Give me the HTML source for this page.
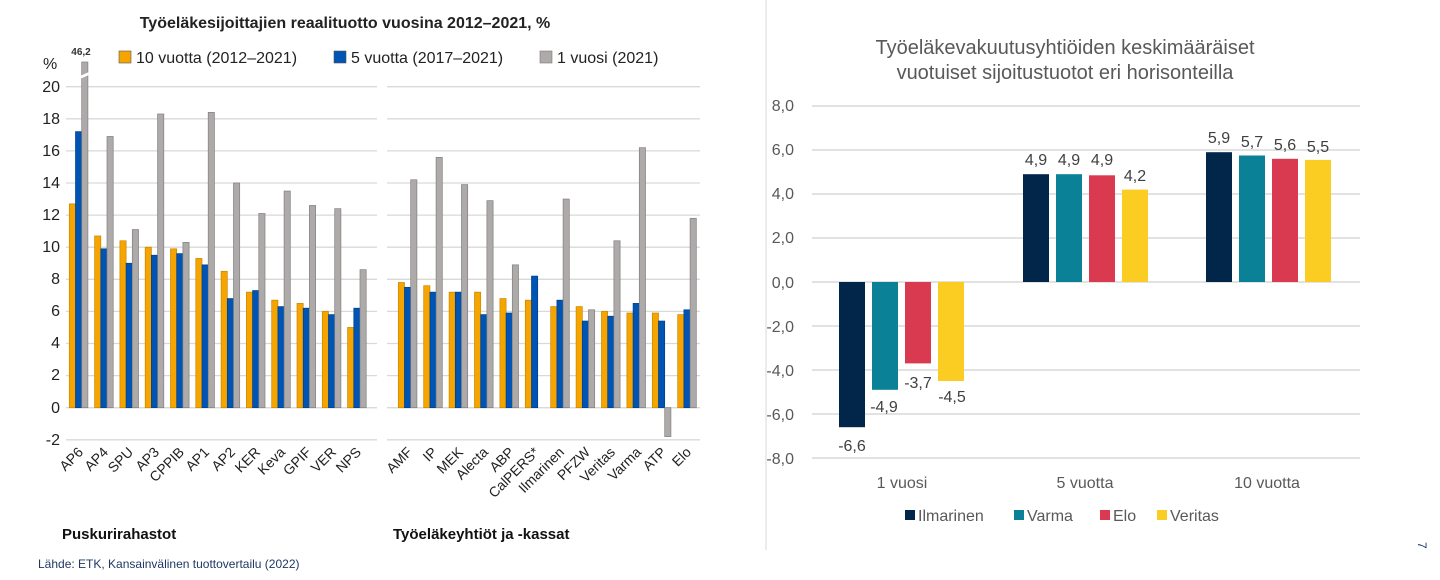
<!DOCTYPE html>
<html><head><meta charset="utf-8">
<style>
html,body{margin:0;padding:0;background:#fff;}
svg{display:block;font-family:"Liberation Sans",sans-serif;}
</style></head>
<body>
<svg id="s" width="1440" height="580" viewBox="0 0 1440 580" xmlns="http://www.w3.org/2000/svg">
<rect width="1440" height="580" fill="#fff"/>
<g id="grid"></g>
<g id="bars"></g>
<!-- left chart texts -->
<text x="345" y="28" text-anchor="middle" font-size="16" font-weight="bold" fill="#222">Työeläkesijoittajien reaalituotto vuosina 2012–2021, %</text>
<text x="81" y="55" text-anchor="middle" font-size="10" font-weight="bold" fill="#333">46,2</text>
<text x="43" y="69" font-size="16" fill="#222">%</text>
<rect x="119" y="51" width="12" height="12" fill="#f6a500" stroke="#555" stroke-width="0.6"/>
<text x="136" y="63" font-size="16" fill="#222">10 vuotta (2012–2021)</text>
<rect x="334" y="51" width="12" height="12" fill="#0054b4" stroke="#555" stroke-width="0.6"/>
<text x="351" y="63" font-size="16" fill="#222">5 vuotta (2017–2021)</text>
<rect x="540" y="51" width="12" height="12" fill="#aeaaaa" stroke="#777" stroke-width="0.6"/>
<text x="557" y="63" font-size="16" fill="#222">1 vuosi (2021)</text>
<g font-size="16" fill="#222" text-anchor="end">
<text x="60" y="92">20</text><text x="60" y="124">18</text><text x="60" y="156">16</text>
<text x="60" y="188">14</text><text x="60" y="220">12</text><text x="60" y="252">10</text>
<text x="60" y="284">8</text><text x="60" y="316">6</text><text x="60" y="348">4</text>
<text x="60" y="380">2</text><text x="60" y="413">0</text><text x="60" y="445">-2</text>
</g>
<g font-size="14" fill="#222" text-anchor="end">
<text transform="translate(84,453) rotate(-45)">AP6</text>
<text transform="translate(109,453) rotate(-45)">AP4</text>
<text transform="translate(134,453) rotate(-45)">SPU</text>
<text transform="translate(160,453) rotate(-45)">AP3</text>
<text transform="translate(185,453) rotate(-45)">CPPIB</text>
<text transform="translate(210,453) rotate(-45)">AP1</text>
<text transform="translate(236,453) rotate(-45)">AP2</text>
<text transform="translate(261,453) rotate(-45)">KER</text>
<text transform="translate(286,453) rotate(-45)">Keva</text>
<text transform="translate(312,453) rotate(-45)">GPIF</text>
<text transform="translate(337,453) rotate(-45)">VER</text>
<text transform="translate(362,453) rotate(-45)">NPS</text>
<text transform="translate(413,453) rotate(-45)">AMF</text>
<text transform="translate(438,453) rotate(-45)">IP</text>
<text transform="translate(464,453) rotate(-45)">MEK</text>
<text transform="translate(489,453) rotate(-45)">Alecta</text>
<text transform="translate(515,453) rotate(-45)">ABP</text>
<text transform="translate(540,453) rotate(-45)">CalPERS*</text>
<text transform="translate(565,453) rotate(-45)">Ilmarinen</text>
<text transform="translate(591,453) rotate(-45)">PFZW</text>
<text transform="translate(616,453) rotate(-45)">Veritas</text>
<text transform="translate(642,453) rotate(-45)">Varma</text>
<text transform="translate(667,453) rotate(-45)">ATP</text>
<text transform="translate(692,453) rotate(-45)">Elo</text>
</g>
<text x="62" y="539" font-size="15" font-weight="bold" fill="#111">Puskurirahastot</text>
<text x="393" y="539" font-size="15" font-weight="bold" fill="#111">Työeläkeyhtiöt ja -kassat</text>
<text x="38" y="568" font-size="12" fill="#1f3864">Lähde: ETK, Kansainvälinen tuottovertailu (2022)</text>
<!-- right chart -->
<line x1="766" y1="0" x2="766" y2="550" stroke="#e6e6e6" stroke-width="1.5"/>
<text x="1065" y="54" text-anchor="middle" font-size="20" fill="#595959">Työeläkevakuutusyhtiöiden keskimääräiset</text>
<text x="1065" y="79" text-anchor="middle" font-size="20" fill="#595959">vuotuiset sijoitustuotot eri horisonteilla</text>
<g font-size="16" fill="#595959" text-anchor="end">
<text x="794" y="111">8,0</text><text x="794" y="155">6,0</text><text x="794" y="199">4,0</text>
<text x="794" y="243">2,0</text><text x="794" y="288">0,0</text><text x="794" y="332">-2,0</text>
<text x="794" y="376">-4,0</text><text x="794" y="420">-6,0</text><text x="794" y="464">-8,0</text>
</g>
<g font-size="16" fill="#404040" text-anchor="middle">
<text x="852" y="451">-6,6</text><text x="884" y="412">-4,9</text><text x="918" y="388">-3,7</text><text x="952" y="402">-4,5</text>
<text x="1036" y="165">4,9</text><text x="1069" y="165">4,9</text><text x="1102" y="165">4,9</text><text x="1135" y="181">4,2</text>
<text x="1219" y="143">5,9</text><text x="1252" y="147">5,7</text><text x="1285" y="150">5,6</text><text x="1318" y="152">5,5</text>
</g>
<g font-size="16" fill="#595959" text-anchor="middle">
<text x="902" y="488">1 vuosi</text><text x="1085" y="488">5 vuotta</text><text x="1267" y="488">10 vuotta</text>
</g>
<g font-size="16" fill="#595959">
<rect x="905" y="510" width="10" height="10" fill="#012649"/><text x="918" y="521">Ilmarinen</text>
<rect x="1014" y="510" width="10" height="10" fill="#0a8196"/><text x="1027" y="521">Varma</text>
<rect x="1100" y="510" width="10" height="10" fill="#d93a50"/><text x="1113" y="521">Elo</text>
<rect x="1157" y="510" width="10" height="10" fill="#fbcd23"/><text x="1170" y="521">Veritas</text>
</g>
<text transform="translate(1418,542) rotate(90)" font-size="12" fill="#1f3864">7</text>
</svg>
<script>
(function(){
var NS="http://www.w3.org/2000/svg",g=document.getElementById('grid'),b=document.getElementById('bars');
function el(p,t,a){var e=document.createElementNS(NS,t);for(var k in a)e.setAttribute(k,a[k]);p.appendChild(e);return e;}
for(var v=-2;v<=20;v+=2){var y=407.7-16.05*v;
 el(g,'line',{x1:66,x2:377,y1:y,y2:y,stroke:'#d9d9d9','stroke-width':1.3});
 el(g,'line',{x1:387,x2:700,y1:y,y2:y,stroke:'#d9d9d9','stroke-width':1.3});}
var L=[[12.7,17.2,63],[10.7,9.9,16.9],[10.4,9.0,11.1],[10.0,9.5,18.3],[9.9,9.6,10.3],[9.3,8.9,18.4],[8.5,6.8,14.0],[7.2,7.3,12.1],[6.7,6.3,13.5],[6.5,6.2,12.6],[6.0,5.8,12.4],[5.0,6.2,8.6]];
var R=[[7.8,7.5,14.2],[7.6,7.2,15.6],[7.2,7.2,13.9],[7.2,5.8,12.9],[6.8,5.9,8.9],[6.7,8.2,null],[6.3,6.7,13.0],[6.3,5.4,6.1],[6.0,5.7,10.4],[5.9,6.5,16.2],[5.9,5.4,-1.8],[5.8,6.1,11.8]];
var cols=['#f6a500','#0054b4','#aeaaaa'],str=['#c98600','#003f8a','#7f7f7f'];
function draw(D,x0,dx){D.forEach(function(d,i){for(var j=0;j<3;j++){var v=d[j];if(v==null)continue;
 var y0=407.7,y1=407.7-16.05*v;var top=Math.min(y0,y1),h=Math.abs(y1-y0);
 if(j==2&&v==63){top=62;h=407.7-62;}
 el(b,'rect',{x:x0+dx*i+6.2*j,y:top,width:6.2,height:h,fill:cols[j],stroke:str[j],'stroke-width':0.7});}});}
draw(L,69.3,25.3);draw(R,398.3,25.4);
el(b,'polygon',{points:'80,76 89,72 89,75 80,79',fill:'#fff'});
for(var v=-8;v<=8;v+=2){var y=282-22*v;el(g,'line',{x1:812,x2:1360,y1:y,y2:y,stroke:'#d9d9d9','stroke-width':1.5});}
var C=['#012649','#0a8196','#d93a50','#fbcd23'];
var V=[[-6.6,-4.9,-3.7,-4.5],[4.9,4.9,4.85,4.2],[5.9,5.75,5.6,5.55]];
var GX=[839,1023,1206];
V.forEach(function(d,i){d.forEach(function(v,j){var y1=282-22*v;
 el(b,'rect',{x:GX[i]+33*j,y:Math.min(282,y1),width:26,height:Math.abs(282-y1),fill:C[j]});});});
})();
</script>
</body></html>
